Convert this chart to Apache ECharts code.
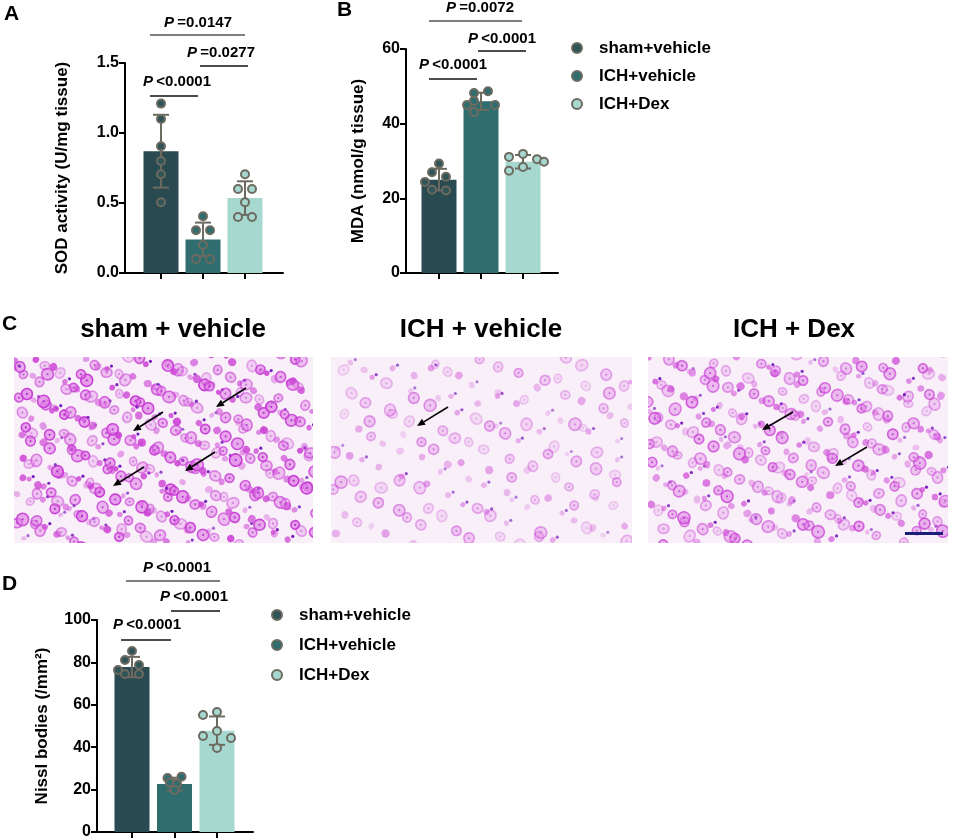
<!DOCTYPE html>
<html>
<head>
<meta charset="utf-8">
<script src="https://cdn.jsdelivr.net/npm/echarts@6/dist/echarts.min.js"></script>
<style>
html, body { margin: 0; padding: 0; background: #fff; }
#chart { width: 962px; height: 840px; }
</style>
</head>
<body>
<div id="chart"></div>
<script>
var groups = ['sham+vehicle', 'ICH+vehicle', 'ICH+Dex'];

// A: SOD activity
var sodMean = [0.87, 0.24, 0.535];
var sodSd = [0.26, 0.12, 0.12];
var sodPoints = [
	[1.21, 1.10, 0.905, 0.80, 0.705, 0.505],
	[0.405, 0.305, 0.305, 0.20, 0.10, 0.10],
	[0.705, 0.60, 0.60, 0.505, 0.40, 0.40]
];
var sodTicks = [0, 0.5, 1.0, 1.5];
var sodP = ['<0.0001', '=0.0277', '=0.0147'];

// B: MDA
var mdaMean = [25.0, 46.0, 29.8];
var mdaSd = [2.9, 2.3, 1.8];
var mdaPoints = [
	[29.3, 27.0, 25.8, 24.4, 22.3, 22.1],
	[48.7, 48.2, 46.1, 45.0, 45.0, 43.1],
	[31.9, 31.1, 30.5, 29.8, 28.4, 27.4]
];
var mdaTicks = [0, 20, 40, 60];
var mdaP = ['<0.0001', '<0.0001', '=0.0072'];

// D: Nissl bodies
var nisslMean = [77.8, 22.6, 47.8];
var nisslSd = [4.8, 3.0, 6.7];
var nisslPoints = [
	[85.4, 81.1, 78.8, 76.4, 74.5, 74.5],
	[26.1, 25.5, 23.3, 22.6, 22.6, 19.8],
	[56.6, 55.2, 47.6, 45.3, 44.3, 39.6]
];
var nisslTicks = [0, 20, 40, 60, 80, 100];
var nisslP = ['<0.0001', '<0.0001', '<0.0001'];

var stainTitles = ['sham + vehicle', 'ICH + vehicle', 'ICH + Dex'];

var barColors = ['#284a50', '#2f6d6e', '#a6d8cf'];
var dotColors = ['#2f5559', '#2f6d6e', '#a6d8cf'];
var edge = '#6d6a60';
var font = '"Liberation Sans", Arial, sans-serif';

// pixel layout of the three plots
var panels = [
	{ left: 125, top: 63, width: 158, height: 210, tick0: 36, step: 42 },
	{ left: 406, top: 49, width: 152, height: 224, tick0: 33, step: 42 },
	{ left: 97, top: 620, width: 156, height: 212, tick0: 35, step: 42.5 }
];

function swarm(values, pxPerY, pxPerX) {
	var steps = [0, -7, 7, -14, 14, -21, 21];
	var placed = [];
	values.forEach(function(v) {
		var py = v * pxPerY, s;
		for (s = 0; s < steps.length - 1; s++) {
			var ok = placed.every(function(p) {
				var dx = p[0] - steps[s], dy = p[1] - py;
				return dx * dx + dy * dy >= 110;
			});
			if (ok) break;
		}
		placed.push([steps[s], py]);
	});
	// centre rows of equal values
	placed.forEach(function(p) {
		var row = placed.filter(function(q) { return Math.abs(q[1] - p[1]) < 2; });
		if (row.length > 1 && !p.done) {
			var m = row.reduce(function(a, q) { return a + q[0]; }, 0) / row.length;
			row.forEach(function(q) { q[0] -= m; q.done = true; });
		}
	});
	return placed.map(function(p) { return p[0] / pxPerX; });
}

function makeAxes(i, ticks, name, nameGap, digits) {
	var p = panels[i];
	return {
		grid: { left: p.left, top: p.top, width: p.width, height: p.height },
		x: {
			type: 'value', gridIndex: i,
			min: -p.tick0 / p.step, max: (p.width - p.tick0) / p.step,
			axisLine: { onZero: false, lineStyle: { color: '#000', width: 2 } },
			axisTick: { show: true, length: 6, lineStyle: { color: '#000', width: 2 }, customValues: [0, 1, 2] },
			axisLabel: { show: false },
			splitLine: { show: false }
		},
		y: {
			type: 'value', gridIndex: i,
			min: ticks[0], max: ticks[ticks.length - 1], interval: ticks[1] - ticks[0],
			axisLine: { show: true, onZero: false, lineStyle: { color: '#000', width: 2 } },
			axisTick: { show: true, length: 6, lineStyle: { color: '#000', width: 2 } },
			axisLabel: {
				color: '#000', fontSize: 16, fontWeight: 'bold', fontFamily: font, margin: 6,
				formatter: function(v) { return v.toFixed(digits); }
			},
			splitLine: { show: false },
			name: name, nameLocation: 'middle', nameGap: nameGap,
			nameTextStyle: { color: '#000', fontSize: 17, fontWeight: 'bold', fontFamily: font }
		}
	};
}

function makeSeries(i, means, sds, points, ticks) {
	var p = panels[i];
	var pxPerY = p.height / (ticks[ticks.length - 1] - ticks[0]);
	var list = [];
	list.push({
		type: 'bar', xAxisIndex: i, yAxisIndex: i, z: 1, barWidth: 35,
		data: means.map(function(m, k) {
			return { value: [k, m], itemStyle: { color: barColors[k] } };
		})
	});
	list.push({
		type: 'custom', xAxisIndex: i, yAxisIndex: i, z: 2,
		data: means.map(function(m, k) { return [k, m - sds[k], m + sds[k]]; }),
		renderItem: function(params, api) {
			var lo = api.coord([api.value(0), api.value(1)]);
			var hi = api.coord([api.value(0), api.value(2)]);
			var cw = 8;
			var st = { stroke: edge, lineWidth: 2 };
			return { type: 'group', children: [
				{ type: 'line', shape: { x1: hi[0], y1: hi[1], x2: lo[0], y2: lo[1] }, style: st },
				{ type: 'line', shape: { x1: hi[0] - cw, y1: hi[1], x2: hi[0] + cw, y2: hi[1] }, style: st },
				{ type: 'line', shape: { x1: lo[0] - cw, y1: lo[1], x2: lo[0] + cw, y2: lo[1] }, style: st }
			] };
		}
	});
	points.forEach(function(vals, k) {
		var offs = swarm(vals, pxPerY, p.step);
		list.push({
			type: 'scatter', name: groups[k], xAxisIndex: i, yAxisIndex: i, z: 3,
			symbol: 'circle', symbolSize: 8,
			itemStyle: { color: dotColors[k], borderColor: edge, borderWidth: 2, opacity: 1 },
			data: vals.map(function(v, j) { return [k + offs[j], v]; })
		});
	});
	return list;
}

var axA = makeAxes(0, sodTicks, 'SOD activity (U/mg tissue)', 54, 1);
var axB = makeAxes(1, mdaTicks, 'MDA (nmol/g tissue)', 39, 0);
var axD = makeAxes(2, nisslTicks, 'Nissl bodies (/mm²)', 46, 0);

// significance brackets (pixel layout)
function bracket(x1, x2, y, cx, ty, label, color) {
	return [
		{ type: 'line', shape: { x1: x1, y1: y, x2: x2, y2: y }, style: { stroke: color, lineWidth: 1.6 } },
		{ type: 'text', x: cx, y: ty, style: {
			text: '{i|P} {b|' + label + '}', align: 'center', verticalAlign: 'middle',
			rich: {
				i: { fontSize: 15, fontWeight: 'bold', fontStyle: 'italic', fontFamily: font, fill: '#000' },
				b: { fontSize: 15, fontWeight: 'bold', fontFamily: font, fill: '#000' }
			}
		} }
	];
}

// decorative Nissl-stain texture for the micrographs
function tissue(w, h, n, strength, offset) {
	var c = document.createElement('canvas');
	c.width = w; c.height = h;
	var g = c.getContext('2d');
	g.fillStyle = '#f8eff8';
	g.fillRect(0, 0, w, h);
	var a1 = 0.7548776662466927, a2 = 0.5698402909980532;
	for (var i = 0; i < n; i++) {
		var k = i + offset;
		var x = ((0.5 + k * a1) % 1) * w + 6 * Math.sin(k * 7.13);
		var y = ((0.5 + k * a2) % 1) * h + 6 * Math.cos(k * 3.77);
		var t = (k * 0.6180339887) % 1;
		var u = (k * 0.4142135623) % 1;
		var r = 2.5 + t * 3.8;
		var a = strength * (0.35 + 0.65 * u);
		g.beginPath(); g.ellipse(x, y, r, r * (0.8 + 0.2 * u), k, 0, Math.PI * 2);
		if (r > 4.2) {
			g.fillStyle = 'rgba(222,120,228,' + (0.75 * a).toFixed(3) + ')';
			g.fill();
			g.strokeStyle = 'rgba(196,52,210,' + a.toFixed(3) + ')';
			g.lineWidth = 1.6;
			g.stroke();
			g.fillStyle = 'rgba(170,40,200,' + a.toFixed(3) + ')';
			g.beginPath(); g.arc(x, y, 1.1, 0, Math.PI * 2); g.fill();
		} else {
			g.fillStyle = 'rgba(206,72,214,' + a.toFixed(3) + ')';
			g.fill();
		}
		if (t < 0.2) {
			g.fillStyle = 'rgba(120,30,190,' + Math.min(1, a + 0.3).toFixed(3) + ')';
			g.beginPath(); g.arc(x + r * 1.6, y - r, 1.6, 0, Math.PI * 2); g.fill();
		}
	}
	return c;
}

function arrow(x1, y1, x2, y2) {
	var ang = Math.atan2(y2 - y1, x2 - x1), L = 8, W = 3.5;
	var bx = x2 - L * Math.cos(ang), by = y2 - L * Math.sin(ang);
	return [
		{ type: 'line', shape: { x1: x1, y1: y1, x2: bx, y2: by }, style: { stroke: '#000', lineWidth: 1.6 }, z: 10 },
		{ type: 'polygon', shape: { points: [
			[x2, y2],
			[bx + W * Math.sin(ang), by - W * Math.cos(ang)],
			[bx - W * Math.sin(ang), by + W * Math.cos(ang)]
		] }, style: { fill: '#000' }, z: 10 }
	];
}

var stainBoxes = [
	{ x: 14, y: 357, w: 299, h: 186, n: 360, s: 0.95, o: 1 },
	{ x: 331, y: 357, w: 301, h: 186, n: 150, s: 0.5, o: 500 },
	{ x: 648, y: 357, w: 300, h: 186, n: 290, s: 0.75, o: 900 }
];
var titleX = [173, 481, 794];

var graphics = [];
function letter(t, x, y) {
	graphics.push({ type: 'text', x: x, y: y, style: { text: t, fontSize: 21, fontWeight: 'bold', fontFamily: font, fill: '#000' } });
}
letter('A', 4, 4);
letter('B', 337, 0);
letter('C', 2, 314);
letter('D', 2, 574);

stainBoxes.forEach(function(b, k) {
	graphics.push({ type: 'image', style: { image: tissue(b.w, b.h, b.n, b.s, b.o), x: b.x, y: b.y, width: b.w, height: b.h } });
	graphics.push({ type: 'text', x: titleX[k], y: 330, style: {
		text: stainTitles[k], align: 'center', verticalAlign: 'middle',
		fontSize: 26, fontWeight: 'bold', fontFamily: font, fill: '#000'
	} });
});
[[246, 388, 216, 407], [163, 412, 133, 431], [215, 452, 185, 471], [144, 467, 113, 486],
 [448, 407, 417, 426], [793, 412, 762, 430], [867, 447, 835, 466]].forEach(function(a) {
	graphics = graphics.concat(arrow(a[0], a[1], a[2], a[3]));
});
graphics.push({ type: 'rect', shape: { x: 905, y: 532, width: 38, height: 3 }, style: { fill: '#1c1f7a' }, z: 10 });

graphics = graphics
	.concat(bracket(150, 198, 96, 177, 82, sodP[0], '#111'))
	.concat(bracket(200, 248, 66, 221, 53, sodP[1], '#111'))
	.concat(bracket(150, 245, 35, 198, 23, sodP[2], '#555'))
	.concat(bracket(429, 477, 79, 453, 65, mdaP[0], '#111'))
	.concat(bracket(478, 526, 51, 502, 39, mdaP[1], '#111'))
	.concat(bracket(429, 522, 21, 480, 8, mdaP[2], '#555'))
	.concat(bracket(121, 171, 640, 147, 625, nisslP[0], '#111'))
	.concat(bracket(171, 220, 611, 194, 597, nisslP[1], '#111'))
	.concat(bracket(126, 220, 581, 177, 568, nisslP[2], '#555'));

var legendText = { color: '#000', fontSize: 17, fontWeight: 'bold', fontFamily: font, lineHeight: 20, padding: [0, 0, 0, 12] };

var option = {
	animation: false,
	backgroundColor: '#fff',
	grid: [axA.grid, axB.grid, axD.grid],
	xAxis: [axA.x, axB.x, axD.x],
	yAxis: [axA.y, axB.y, axD.y],
	legend: [
		{ data: groups, orient: 'vertical', left: 566, top: 33, itemGap: 8, itemWidth: 10, itemHeight: 10, icon: 'circle', textStyle: legendText, selectedMode: false },
		{ data: groups, orient: 'vertical', left: 266, top: 600, itemGap: 10, itemWidth: 10, itemHeight: 10, icon: 'circle', textStyle: legendText, selectedMode: false }
	],
	graphic: graphics,
	series: []
		.concat(makeSeries(0, sodMean, sodSd, sodPoints, sodTicks))
		.concat(makeSeries(1, mdaMean, mdaSd, mdaPoints, mdaTicks))
		.concat(makeSeries(2, nisslMean, nisslSd, nisslPoints, nisslTicks))
};

var myChart = echarts.init(document.getElementById('chart'));
myChart.setOption(option);
</script>
</body>
</html>
